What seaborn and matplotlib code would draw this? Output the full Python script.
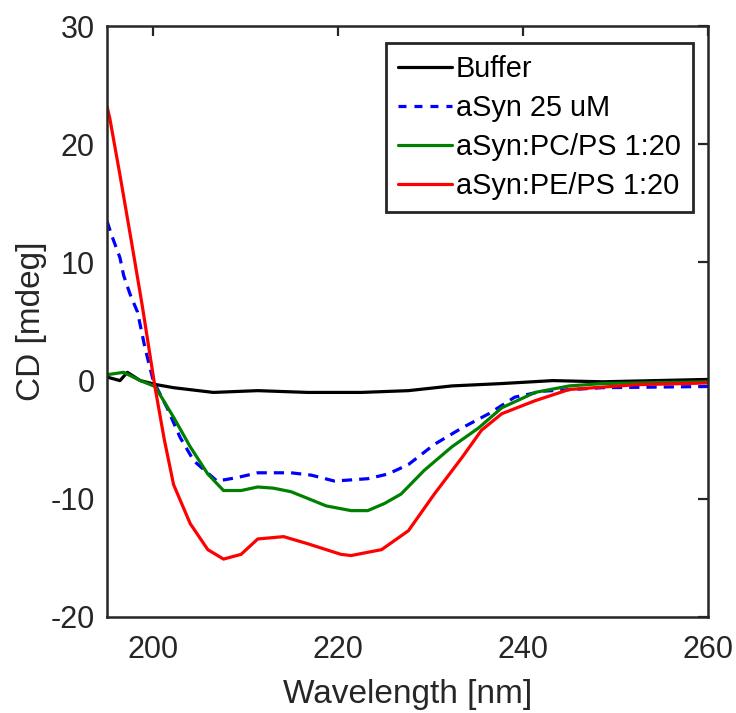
import matplotlib
matplotlib.use("Agg")
import matplotlib.pyplot as plt
import seaborn as sns
import pandas as pd

# ---- data ----
buffer_wl = [195, 196.4, 197.2, 198.6, 200.4, 202.2, 206.5, 211.3, 216.7, 222.5, 227.6, 232.3, 237.7, 243.2, 248.6, 260]
buffer_cd = [0.3, 0.0, 0.7, 0.0, -0.35, -0.6, -1.0, -0.85, -1.0, -1.0, -0.85, -0.45, -0.25, 0.0, -0.1, 0.1]

asyn_wl = [195, 195.5, 196.4, 196.8, 197.5, 198.3, 199.1, 200, 201.5, 202.9, 204.4, 206.9, 209.1, 211.3, 214.9,
           217.1, 219.6, 223.2, 225.4, 227.6, 230.4, 233.4, 236.3, 239.1, 242.1, 248.6, 260]
asyn_cd = [13.5, 12.3, 10.4, 8.9, 7.3, 5.8, 2.8, 0.0, -2.3, -4.8, -6.8, -8.5, -8.2, -7.8, -7.8,
           -8.0, -8.5, -8.3, -7.9, -7.1, -5.4, -4.0, -2.8, -1.4, -0.9, -0.6, -0.5]

pcps_wl = [195, 196.8, 198.6, 200.2, 202.2, 204, 205.9, 207.6, 209.5, 211.3, 213, 214.9, 216.5, 218.7,
           221.4, 223.2, 225, 226.8, 229.3, 232.3, 235.2, 237.7, 241.3, 245, 248.6, 260]
pcps_cd = [0.5, 0.7, 0.0, -0.5, -3.1, -5.6, -7.9, -9.3, -9.3, -9.0, -9.1, -9.4, -9.9, -10.6,
           -11.0, -11.0, -10.4, -9.6, -7.6, -5.6, -4.0, -2.3, -1.0, -0.45, -0.25, -0.1]

peps_wl = [195, 195.3, 196.4, 197.7, 198.8, 200.2, 201.2, 202.2, 204, 205.9, 207.6, 209.5, 211.3, 214.1, 216.7,
           220.3, 221.4, 224.7, 227.6, 230.4, 233.4, 235.5, 237.7, 241.3, 245, 252.2, 260]
peps_cd = [23.2, 22.2, 17.4, 11.5, 6.4, -0.6, -5.0, -8.8, -12.1, -14.3, -15.1, -14.7, -13.4, -13.2, -13.8,
           -14.7, -14.8, -14.3, -12.7, -9.6, -6.5, -4.2, -2.8, -1.7, -0.75, -0.35, -0.2]

labels = ["Buffer", "aSyn 25 uM", "aSyn:PC/PS 1:20", "aSyn:PE/PS 1:20"]
colors = ["#000000", "#0000ff", "#008000", "#ff0000"]
styles = ["-", "--", "-", "-"]

x_ticks = [200, 220, 240, 260]
y_ticks = [-20, -10, 0, 10, 20, 30]

sns.set_theme(style="white")
plt.rcParams["font.family"] = ["Liberation Sans", "DejaVu Sans"]
plt.rcParams["axes.unicode_minus"] = False
dark = "#262626"

fig = plt.figure(figsize=(7.36, 7.13), dpi=100)
ax = fig.add_axes([107 / 736, 1 - 617 / 713, 601 / 736, 591 / 713])

series = [(buffer_wl, buffer_cd), (asyn_wl, asyn_cd), (pcps_wl, pcps_cd), (peps_wl, peps_cd)]
for (wl, cd), lab, col, ls in zip(series, labels, colors, styles):
    df = pd.DataFrame({"Wavelength": wl, "CD": cd})
    sns.lineplot(data=df, x="Wavelength", y="CD", ax=ax, color=col, label=lab,
                 linewidth=2.3, estimator=None, sort=False)
    ax.lines[-1].set_linestyle(ls)
    if ls == "--":
        ax.lines[-1].set_dashes((3.2, 2.2))

ax.set_xlim(195, 260)
ax.set_ylim(-20, 30)
ax.set_xticks(x_ticks)
ax.set_yticks(y_ticks)
ax.tick_params(axis="both", direction="in", length=7, width=1.6, colors=dark,
               labelsize=22, top=True, right=True, labelcolor=dark)
ax.tick_params(axis="x", pad=13)
ax.tick_params(axis="y", pad=9)
for sp in ax.spines.values():
    sp.set_visible(True)
    sp.set_color(dark)
    sp.set_linewidth(1.8)
ax.set_xlabel("Wavelength [nm]", fontsize=24, color=dark, labelpad=10)
ax.set_ylabel("CD [mdeg]", fontsize=24, color=dark, labelpad=2)

leg = ax.legend(loc="upper right", bbox_to_anchor=(0.975, 0.972), borderaxespad=0,
                fontsize=20.8, frameon=True, fancybox=False, handlelength=1.85,
                handletextpad=0.15, labelspacing=0.38, borderpad=0.42)
leg.get_frame().set_edgecolor(dark)
leg.get_frame().set_linewidth(2.0)
leg.get_frame().set_facecolor("white")
leg.get_frame().set_alpha(1)
for t in leg.get_texts():
    t.set_color("#000000")
for h in leg.get_lines():
    h.set_linewidth(2.3)
    if h.get_linestyle() == "--":
        h.set_dashes((2.5, 2.5))

fig.savefig("out.png", dpi=100, facecolor="white")
